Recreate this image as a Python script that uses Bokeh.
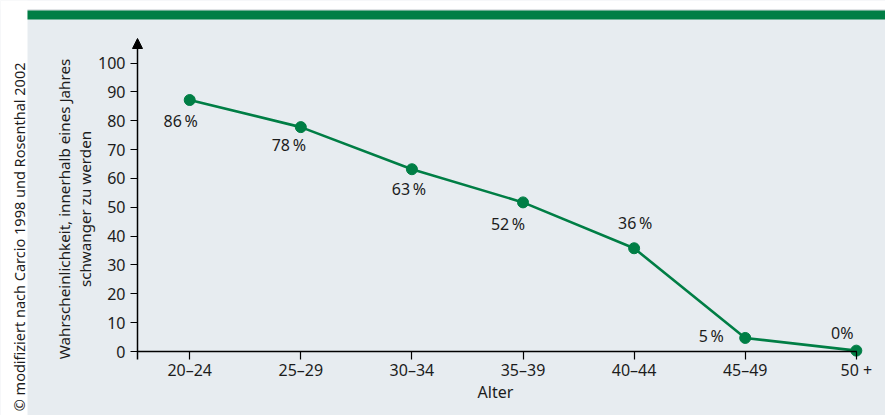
import math
from bokeh.plotting import figure
from bokeh.models import (ColumnDataSource, FixedTicker, Range1d, Label, BoxAnnotation,
                          Arrow, NormalHead, LinearAxis)
from bokeh.core.properties import value
from bokeh.embed import file_html
from bokeh.resources import INLINE

# ---- data ----
age_groups = ["20–24", "25–29", "30–34", "35–39", "40–44", "45–49", "50 +"]
probability = [87.2, 77.8, 63.2, 51.7, 35.8, 4.7, 0.3]
value_labels = ["86\u2009%", "78\u2009%", "63\u2009%", "52\u2009%", "36\u2009%", "5\u2009%", "0%"]
y_ticks = [0, 10, 20, 30, 40, 50, 60, 70, 80, 90, 100]
y_title_lines = ["Wahrscheinlichkeit, innerhalb eines Jahres", "schwanger zu werden"]
x_title = "Alter"
source_note = "© modifiziert nach Carcio 1998 und Rosenthal 2002"

# ---- style ----
GREEN = "#007e45"
PANEL = "#e7ecf0"
TEXT = "#1c1c1c"
RULE = "#cfd2d4"
FONT = "Noto Sans"
label_dx = [-9, -12, -3, -15, 1, -34, -14]
label_dy = [21, 18, 20, 22, -25, -2, -18]

W, H = 885, 415
PX = 111.1          # px per category
PY = 2.884          # px per percent
AX_X, AX_Y = 137, 351   # pixel position of the axes origin (from top-left)
X0 = -0.47              # category coordinate of the y-axis
XL = X0 - AX_X / PX
YT = AX_Y / PY


def dx(px):
    return XL + px / PX


def dy(py):
    return YT - py / PY


p = figure(width=W, height=H, output_backend="svg", toolbar_location=None,
           x_range=Range1d(dx(0), dx(W)), y_range=Range1d(dy(H), dy(0)),
           x_axis_location=None, y_axis_location=None, min_border=0)
p.background_fill_color = PANEL
p.border_fill_color = PANEL
p.outline_line_color = None
p.grid.visible = False

# page decorations: white margin strips, grey rule, green bar
p.add_layout(BoxAnnotation(left=dx(0), right=dx(27), fill_color="white", fill_alpha=1,
                           line_color=None, level="underlay"))
p.add_layout(BoxAnnotation(bottom=dy(9), top=dy(0), fill_color="white", fill_alpha=1,
                           line_color=None, level="underlay"))
p.add_layout(BoxAnnotation(left=dx(27), bottom=dy(10), top=dy(9), fill_color=RULE, fill_alpha=1,
                           line_color=None, level="underlay"))
p.add_layout(BoxAnnotation(left=dx(27), bottom=dy(19), top=dy(10), fill_color=GREEN, fill_alpha=1,
                           line_color=None, level="underlay"))

# axes
ya = LinearAxis(fixed_location=X0, ticker=FixedTicker(ticks=y_ticks))
ya.axis_line_color = None
ya.minor_tick_line_color = None
ya.major_tick_in = 0
ya.major_tick_out = 7
ya.major_tick_line_width = 1.2
ya.major_tick_line_color = "black"
ya.major_label_standoff = 5
ya.major_label_text_font = FONT
ya.major_label_text_font_size = "16px"
ya.major_label_text_color = TEXT
p.add_layout(ya, "left")

xs = list(range(len(age_groups)))
xa = LinearAxis(fixed_location=0, ticker=FixedTicker(ticks=xs))
xa.major_label_overrides = {i: g for i, g in enumerate(age_groups)}
xa.axis_line_color = None
xa.minor_tick_line_color = None
xa.major_tick_in = 0
xa.major_tick_out = 8
xa.major_tick_line_width = 1.2
xa.major_tick_line_color = "black"
xa.major_label_standoff = -1
xa.major_label_text_font = FONT
xa.major_label_text_font_size = "16px"
xa.major_label_text_color = TEXT
p.add_layout(xa, "below")

# axis lines (y with arrow head)
p.add_layout(Arrow(x_start=X0, y_start=0, x_end=6.005, y_end=0, end=None,
                   line_color="black", line_width=1.5))
p.add_layout(Arrow(x_start=X0, y_start=dy(359), x_end=X0, y_end=dy(38),
                   line_color="black", line_width=1.5,
                   end=NormalHead(size=10, fill_color="black", line_color="black", line_width=1)))

# data
src = ColumnDataSource(dict(x=xs, y=probability, lab=value_labels, dx=label_dx, dy=label_dy))
p.line("x", "y", source=src, line_color=GREEN, line_width=2.6)
p.scatter("x", "y", source=src, size=11, fill_color=GREEN, line_color=GREEN)
p.text("x", "y", text="lab", source=src, x_offset="dx", y_offset="dy",
       text_align="center", text_baseline="middle", text_font=value(FONT),
       text_font_size="16px", text_color=TEXT)

# axis titles and source note
p.add_layout(Label(x=dx(495), y=dy(391.5), text=x_title,
                   text_align="center", text_baseline="middle", text_font=FONT,
                   text_font_size="16px", text_color=TEXT))
for tx, ln in zip([63.5, 84], y_title_lines):
    p.add_layout(Label(x=dx(tx), y=dy(208.5), text=ln, angle=math.pi / 2,
                       text_align="center", text_baseline="middle", text_font=FONT,
                       text_font_size="15.2px", text_color=TEXT))
p.add_layout(Label(x=dx(18), y=dy(62), text=source_note, angle=math.pi / 2,
                   text_align="right", text_baseline="middle", text_font=FONT,
                   text_font_size="14.5px", text_color=TEXT))

open("out.html", "w").write(file_html(p, INLINE))
